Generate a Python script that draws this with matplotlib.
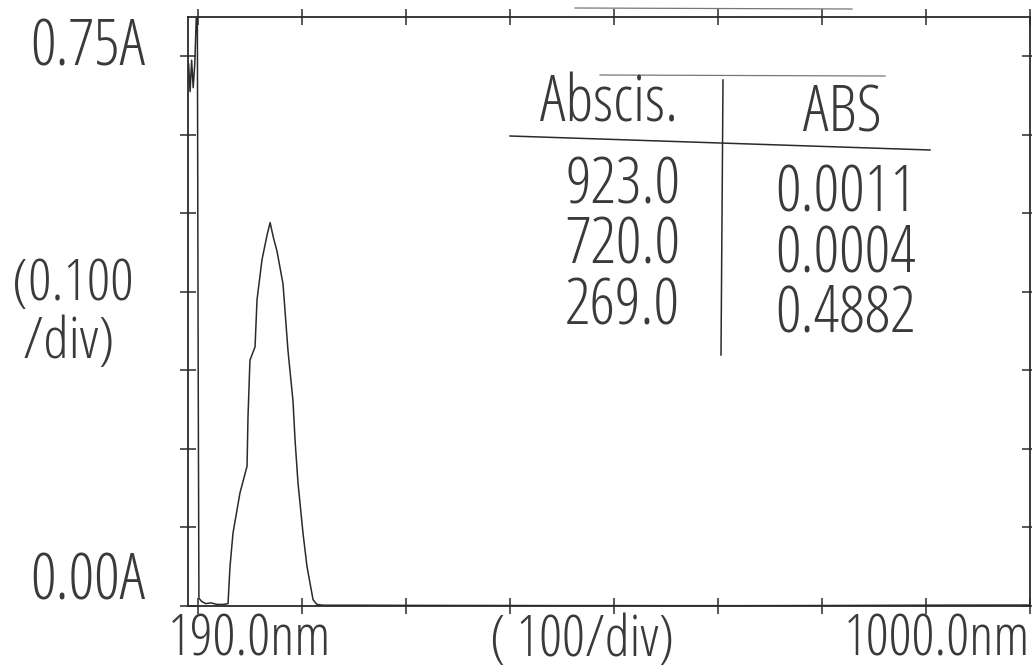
import matplotlib
matplotlib.use("Agg")
import matplotlib.pyplot as plt
from matplotlib import font_manager as fm
from matplotlib.lines import Line2D

# ---------------- data ----------------
wavelength = [190.6, 192, 193.5, 195, 196.5, 198.0, 199.0, 199.8, 200.5, 203, 207, 212, 218,
              224, 228.5, 230.4, 233.3, 240.0, 246.8, 247.7, 249.6, 254.5, 256.4, 261.2,
              266.0, 269.0, 272.0, 275.6, 281.4, 286.2, 291.0, 293.0, 295.8, 300.6, 304.5,
              310.3, 314.0, 320, 350, 400, 450, 500, 550, 600, 650, 720, 800, 850, 923, 1000]
absorbance = [0.69, 0.655, 0.695, 0.66, 0.69, 0.75, 0.75, 0.30, 0.01, 0.006, 0.003, 0.004,
              0.002, 0.002, 0.003, 0.05, 0.093, 0.144, 0.178, 0.240, 0.313, 0.330, 0.390,
              0.441, 0.472, 0.4882, 0.470, 0.452, 0.410, 0.325, 0.261, 0.211, 0.157, 0.093,
              0.050, 0.008, 0.002, 0.001, 0.001, 0.0008, 0.0007, 0.0006, 0.0005, 0.0005,
              0.0004, 0.0004, 0.0006, 0.0008, 0.0011, 0.0012]

x_ticks = [200, 300, 400, 500, 600, 700, 800, 900, 1000]
y_ticks = [0.0, 0.1, 0.2, 0.3, 0.4, 0.5, 0.6, 0.7]

table_header = ["Abscis.", "ABS"]
table_abscis = ["923.0", "720.0", "269.0"]
table_abs = ["0.0011", "0.0004", "0.4882"]

y_top_label = "0.75A"
y_scale_label = ["(0.100", " /div)"]
y_bottom_label = "0.00A"
x_left_label = "190.0nm"
x_scale_label = "( 100/div)"
x_right_label = "1000.0nm"

# ---------------- font ----------------
names = {f.name for f in fm.fontManager.ttflist}
if "Open Sans" in names:
    FP = dict(family="Open Sans", weight="light", stretch="condensed")
elif "Liberation Sans Narrow" in names:
    FP = dict(family="Liberation Sans Narrow")
else:
    FP = dict(family="DejaVu Sans", stretch="condensed")

W, H = 1032, 671
fig = plt.figure(figsize=(W / 100, H / 100), dpi=100)
fig.patch.set_facecolor("white")

ax_l, ax_r, ax_t, ax_b = 188, 1030, 17, 606
ax = fig.add_axes([ax_l / W, 1 - ax_b / H, (ax_r - ax_l) / W, (ax_b - ax_t) / H])
ax.set_xlim(190, 1000)
ax.set_ylim(0, 0.75)

INK = "#2a2a2a"
ax.plot(wavelength, absorbance, color=INK, lw=1.1, solid_joinstyle="round")

for s in ax.spines.values():
    s.set_color(INK)
    s.set_linewidth(1.3)
ax.set_xticks(x_ticks)
ax.set_yticks(y_ticks)
ax.tick_params(axis="both", direction="inout", length=11, width=1.1, color=INK,
               top=True, right=True, labelbottom=False, labelleft=False)


def ftext(x, y, s, size=46, ha="left", color="#3a3a3a", **kw):
    fig.text(x / W, 1 - y / H, s, ha=ha, va="baseline", fontsize=size, color=color,
             **FP, **kw)


# axis labels (baseline positions in pixels)
ftext(30, 65, y_top_label)
ftext(12, 358, "\n".join(y_scale_label), size=42, linespacing=1.02,
      multialignment="left")
ftext(30, 600, y_bottom_label)
ftext(168, 656, x_left_label, size=41)
ftext(490, 656, x_scale_label, size=41)
ftext(1030, 656, x_right_label, size=41, ha="right")

# table
ftext(540, 122, table_header[0])
ftext(803, 132, table_header[1])
for i, (a, b) in enumerate(zip(table_abscis, table_abs)):
    ftext(565, 204 + 60 * i, a)
    ftext(775, 211 + 60 * i, b)


def fline(xs, ys, lw=1.1, color=INK, ls="-"):
    fig.add_artist(Line2D([x / W for x in xs], [1 - y / H for y in ys],
                          transform=fig.transFigure, color=color, lw=lw, ls=ls))


fline([510, 930], [136, 150])                     # header underline
fline([723, 721], [80, 355])                      # column divider
fline([600, 885], [75, 76], lw=0.9, color="#777")  # faint top rule
fline([575, 852], [8, 9], lw=0.9, color="#777")    # faint rule above frame

fig.savefig("out.png", dpi=100)
